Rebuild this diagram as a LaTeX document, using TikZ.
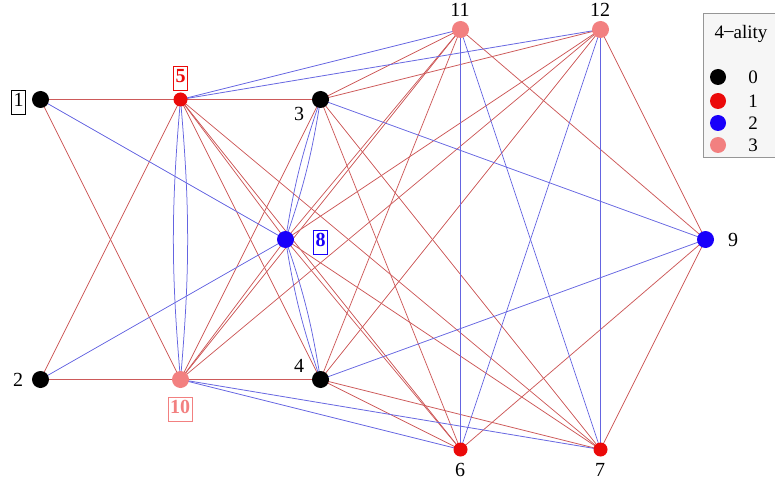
\documentclass[tikz,border=0pt]{standalone}
\usepackage{fontspec}
\setmainfont{Liberation Serif}
\definecolor{ered}{RGB}{205,90,90}
\definecolor{eblue}{RGB}{100,100,225}
\definecolor{vred}{RGB}{235,10,10}
\definecolor{vblue}{RGB}{25,0,250}
\definecolor{vpink}{RGB}{242,128,128}
\definecolor{legbg}{RGB}{246,246,246}
\definecolor{legfr}{RGB}{150,150,150}
\begin{document}
\begin{tikzpicture}[x=1pt,y=-1pt,
  re/.style={draw=ered,line width=0.75pt},
  be/.style={draw=eblue,line width=0.75pt},
  dotbig/.style={circle,inner sep=0pt,minimum size=17pt},
  dotsmall/.style={circle,inner sep=0pt,minimum size=14pt},
  lab/.style={font=\fontsize{20}{24}\selectfont,inner sep=0pt},
  boxlab/.style={font=\fontsize{20}{24}\selectfont,inner xsep=2pt,inner ysep=0pt,line width=0.7pt},
  legtxt/.style={font=\fontsize{19}{23}\selectfont,inner sep=0pt}]
\useasboundingbox (0,0) rectangle (775,486);
% positions
\coordinate (p1) at (40.5,99.5);
\coordinate (p2) at (40.5,379.5);
\coordinate (p3) at (320.5,99.5);
\coordinate (p4) at (320.5,379.5);
\coordinate (p5) at (180.5,99.5);
\coordinate (p6) at (460.5,449.5);
\coordinate (p7) at (600.5,449.5);
\coordinate (p8) at (285.5,239.5);
\coordinate (p9) at (705.5,239.5);
\coordinate (p10) at (180.5,379.5);
\coordinate (p11) at (460.5,29.5);
\coordinate (p12) at (600.5,29.5);
% red edges
\foreach \a/\b in {1/5,1/10,2/10,2/5,5/3,10/4,5/8,5/4,5/6,5/7,10/8,10/3,10/11,10/12,
  3/11,3/12,3/6,3/7,4/6,4/7,4/11,4/12,8/11,8/12,8/6,8/7,9/11,9/12,9/6,9/7}
  \draw[re] (p\a) -- (p\b);
% blue edges
\foreach \a/\b in {1/8,2/8,5/11,5/12,10/6,10/7,3/9,4/9,11/6,11/7,12/6,12/7}
  \draw[be] (p\a) -- (p\b);
\draw[be] (p5) to[bend left=5] (p10);
\draw[be] (p5) to[bend right=5] (p10);
\draw[be] (p3) to[bend left=5] (p8);
\draw[be] (p3) to[bend right=5] (p8);
\draw[be] (p4) to[bend left=5] (p8);
\draw[be] (p4) to[bend right=5] (p8);
% vertices
\node[dotbig,fill=black] (v1) at (p1) {};
\node[dotbig,fill=black] (v2) at (p2) {};
\node[dotbig,fill=black] (v3) at (p3) {};
\node[dotbig,fill=black] (v4) at (p4) {};
\node[dotsmall,fill=vred] (v5) at (p5) {};
\node[dotsmall,fill=vred] (v6) at (p6) {};
\node[dotsmall,fill=vred] (v7) at (p7) {};
\node[dotbig,fill=vblue] (v8) at (p8) {};
\node[dotbig,fill=vblue] (v9) at (p9) {};
\node[dotbig,fill=vpink] (v10) at (p10) {};
\node[dotbig,fill=vpink] (v11) at (p11) {};
\node[dotbig,fill=vpink] (v12) at (p12) {};
% labels
\node[boxlab,draw=black] (l1) at (18.5,102) {\strut 1};
\node[lab] (l2) at (18,380) {2};
\node[lab] (l3) at (299,114) {3};
\node[lab] (l4) at (299,366) {4};
\node[boxlab,draw=vred,text=vred] (l5) at (180.5,78) {\strut\bfseries 5};
\node[lab] (l6) at (460,470) {6};
\node[lab] (l7) at (600,470) {7};
\node[boxlab,draw=vblue,text=vblue] (l8) at (320.5,242) {\strut\bfseries 8};
\node[lab] (l9) at (733,240) {9};
\node[boxlab,draw=vpink,text=vpink] (l10) at (180,409) {\strut\bfseries 10};
\node[lab] (l11) at (460,10) {11};
\node[lab] (l12) at (600,10) {12};
% legend
\node[draw=legfr,fill=legbg,line width=0.6pt,minimum width=80pt,minimum height=144pt,anchor=north west,inner sep=0pt] (leg) at (703,13) {};
\node[legtxt] (lt) at (741,34) {4\raisebox{0.2ex}{--}ality};
\foreach \c/\t/\yy in {black/0/77,vred/1/101,vblue/2/123,vpink/3/145}{
  \node[circle,inner sep=0pt,minimum size=16pt,fill=\c] (ld\t) at (718,\yy) {};
  \node[legtxt] (ll\t) at (753,\yy) {\t};
}
\end{tikzpicture}
\end{document}
